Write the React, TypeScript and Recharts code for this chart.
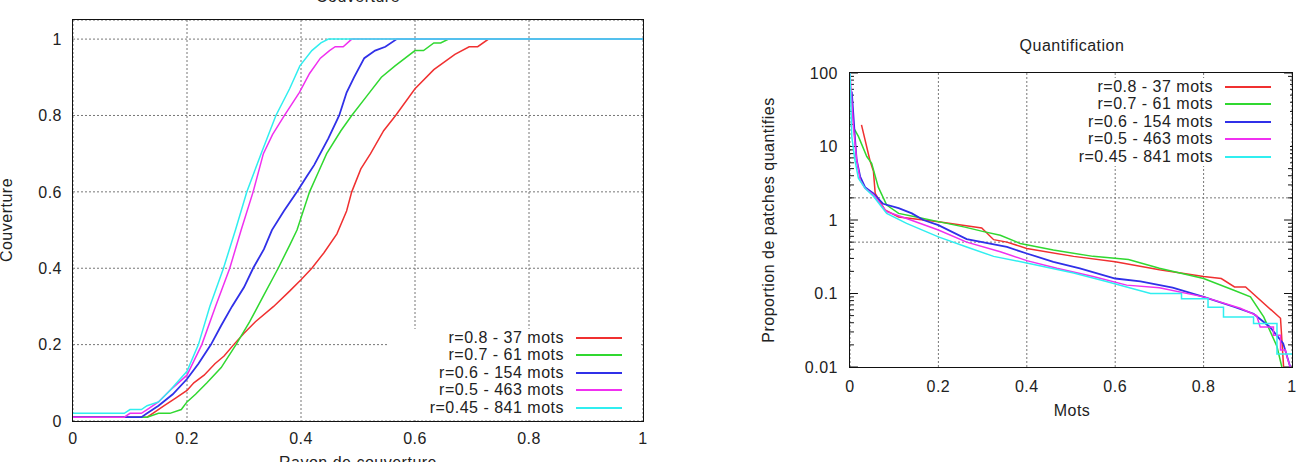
import React from 'react'
import { LineChart, Line, XAxis, YAxis, CartesianGrid, ReferenceLine } from 'recharts'

const FONT = '"Liberation Sans", Arial, Helvetica, sans-serif'
const TEXT = '#222'
const FS = 16
const LS = 0.5

const seriesNames = ['r=0.8 - 37 mots', 'r=0.7 - 61 mots', 'r=0.6 - 154 mots', 'r=0.5 - 463 mots', 'r=0.45 - 841 mots']
const seriesColors = ['#f03030', '#30d830', '#3030e8', '#f030f0', '#30eef0']

const xTicks = [0, 0.2, 0.4, 0.6, 0.8, 1]
const couvYTicks = [0, 0.2, 0.4, 0.6, 0.8, 1]
const quantYTicks = [0.01, 0.1, 1, 10, 100]
const quantGridY = [2, 0.5]

// Couverture (x = rayon, y = couverture)
const couvX_r08 = [0, 0.13, 0.14, 0.16, 0.18, 0.2, 0.212, 0.23, 0.249, 0.265, 0.282, 0.3, 0.32, 0.352, 0.38, 0.4, 0.419, 0.44, 0.463, 0.48, 0.489, 0.505, 0.522, 0.545, 0.566, 0.6, 0.633, 0.67, 0.695, 0.71, 0.729, 1]
const couvY_r08 = [0.01, 0.01, 0.02, 0.04, 0.06, 0.08, 0.1, 0.12, 0.15, 0.17, 0.2, 0.23, 0.26, 0.3, 0.34, 0.37, 0.4, 0.44, 0.49, 0.55, 0.6, 0.66, 0.7, 0.76, 0.8, 0.87, 0.92, 0.96, 0.98, 0.98, 1, 1]
const couvX_r07 = [0, 0.13, 0.15, 0.17, 0.19, 0.2, 0.215, 0.235, 0.26, 0.286, 0.31, 0.335, 0.36, 0.38, 0.393, 0.415, 0.43, 0.445, 0.47, 0.489, 0.515, 0.541, 0.565, 0.6, 0.615, 0.633, 0.645, 0.659, 1]
const couvY_r07 = [0.01, 0.01, 0.02, 0.02, 0.03, 0.05, 0.07, 0.1, 0.14, 0.2, 0.26, 0.33, 0.4, 0.46, 0.5, 0.6, 0.65, 0.7, 0.76, 0.8, 0.85, 0.9, 0.93, 0.97, 0.97, 0.99, 0.99, 1, 1]
const couvX_r06 = [0, 0.11, 0.12, 0.13, 0.15, 0.175, 0.2, 0.22, 0.242, 0.26, 0.279, 0.3, 0.316, 0.335, 0.349, 0.37, 0.393, 0.41, 0.423, 0.448, 0.467, 0.48, 0.493, 0.511, 0.53, 0.548, 0.568, 1]
const couvY_r06 = [0.01, 0.01, 0.01, 0.02, 0.04, 0.07, 0.11, 0.15, 0.2, 0.25, 0.3, 0.35, 0.4, 0.45, 0.5, 0.55, 0.6, 0.64, 0.67, 0.74, 0.8, 0.86, 0.9, 0.95, 0.97, 0.98, 1, 1]
const couvX_r05 = [0, 0.09, 0.1, 0.12, 0.13, 0.15, 0.17, 0.2, 0.213, 0.226, 0.25, 0.275, 0.295, 0.316, 0.334, 0.35, 0.371, 0.397, 0.415, 0.434, 0.45, 0.46, 0.474, 0.489, 1]
const couvY_r05 = [0.01, 0.01, 0.02, 0.02, 0.03, 0.05, 0.08, 0.12, 0.16, 0.2, 0.3, 0.4, 0.5, 0.6, 0.7, 0.75, 0.8, 0.86, 0.91, 0.95, 0.97, 0.98, 0.98, 1, 1]
const couvX_r045 = [0, 0.09, 0.1, 0.12, 0.13, 0.15, 0.17, 0.2, 0.22, 0.24, 0.264, 0.285, 0.305, 0.33, 0.356, 0.38, 0.398, 0.419, 0.435, 0.448, 1]
const couvY_r045 = [0.02, 0.02, 0.03, 0.03, 0.04, 0.05, 0.08, 0.13, 0.2, 0.3, 0.4, 0.5, 0.6, 0.7, 0.8, 0.87, 0.93, 0.97, 0.99, 1, 1]

// Quantification (x = mots, y = proportion, log)
const quantX_r08 = [0.026, 0.045, 0.053, 0.057, 0.079, 0.11, 0.2, 0.298, 0.325, 0.355, 0.4, 0.506, 0.6, 0.7, 0.8, 0.84, 0.87, 0.895, 0.974, 0.981]
const quantY_r08 = [19.7, 6.5, 4.6, 2.3, 1.37, 1.1, 0.95, 0.78, 0.54, 0.5, 0.41, 0.32, 0.27, 0.21, 0.17, 0.16, 0.123, 0.123, 0.046, 0.01]
const quantX_r07 = [0.008, 0.019, 0.038, 0.049, 0.064, 0.083, 0.11, 0.15, 0.2, 0.26, 0.3, 0.34, 0.385, 0.46, 0.55, 0.63, 0.7, 0.8, 0.87, 0.906, 0.936, 0.966, 0.977]
const quantY_r07 = [18, 13.7, 7.3, 5.9, 2.8, 1.6, 1.23, 1.1, 0.95, 0.8, 0.7, 0.62, 0.48, 0.39, 0.32, 0.29, 0.22, 0.16, 0.11, 0.09, 0.048, 0.019, 0.01]
const quantX_r06 = [0.004, 0.011, 0.015, 0.023, 0.034, 0.053, 0.075, 0.11, 0.14, 0.166, 0.2, 0.264, 0.355, 0.4, 0.46, 0.52, 0.6, 0.657, 0.73, 0.8, 0.868, 0.913, 0.95, 0.98, 0.996]
const quantY_r06 = [56, 13.7, 6.6, 3.9, 2.8, 2.3, 1.66, 1.45, 1.23, 1.0, 0.85, 0.55, 0.43, 0.35, 0.27, 0.22, 0.16, 0.146, 0.12, 0.09, 0.066, 0.053, 0.035, 0.021, 0.01]
const quantX_r05 = [0, 0.0075, 0.015, 0.023, 0.034, 0.053, 0.083, 0.128, 0.2, 0.264, 0.34, 0.4, 0.468, 0.55, 0.626, 0.7, 0.8, 0.883, 0.92, 0.928, 0.958, 0.958, 0.974, 0.974, 0.985, 0.99, 0.996]
const quantY_r05 = [100, 19, 6.6, 3.5, 2.7, 2.2, 1.3, 1.05, 0.73, 0.5, 0.37, 0.28, 0.22, 0.17, 0.13, 0.12, 0.09, 0.063, 0.05, 0.035, 0.035, 0.027, 0.027, 0.017, 0.017, 0.013, 0.01]
const quantX_r045 = [0, 0.004, 0.011, 0.019, 0.034, 0.053, 0.083, 0.128, 0.2, 0.264, 0.325, 0.4, 0.506, 0.58, 0.68, 0.75, 0.75, 0.81, 0.81, 0.845, 0.845, 0.913, 0.913, 0.966, 0.966, 1]
const quantY_r045 = [100, 13.7, 6.6, 3.7, 2.7, 2.1, 1.23, 0.9, 0.59, 0.43, 0.32, 0.26, 0.19, 0.146, 0.1, 0.1, 0.085, 0.085, 0.065, 0.065, 0.048, 0.048, 0.039, 0.039, 0.015, 0.015]

const zip = (xs: number[], ys: number[]) => xs.map((x, i) => ({ x, y: ys[i] }))

const couvSeries = [
  zip(couvX_r08, couvY_r08),
  zip(couvX_r07, couvY_r07),
  zip(couvX_r06, couvY_r06),
  zip(couvX_r05, couvY_r05),
  zip(couvX_r045, couvY_r045),
]
const quantSeries = [
  zip(quantX_r08, quantY_r08),
  zip(quantX_r07, quantY_r07),
  zip(quantX_r06, quantY_r06),
  zip(quantX_r05, quantY_r05),
  zip(quantX_r045, quantY_r045),
]

// inward minor ticks on the log axis (gnuplot style)
const logMinor: number[] = []
for (const d of [0.01, 0.1, 1, 10]) for (const m of [2, 3, 4, 5, 6, 7, 8, 9]) logMinor.push(d * m)

const tickStyle = { fontSize: FS, fill: TEXT, fontFamily: FONT, letterSpacing: LS }
const fmt = (v: number) => String(v)

function Label({ x, y, text, rotate }: { x: number; y: number; text: string; rotate?: boolean }) {
  return (
    <div
      style={{
        position: 'absolute', left: x, top: y, fontSize: FS, lineHeight: `${FS}px`, color: TEXT,
        fontFamily: FONT, letterSpacing: LS, whiteSpace: 'nowrap',
        transform: `translate(-50%, -50%)${rotate ? ' rotate(-90deg)' : ''}`,
      }}
    >
      {text}
    </div>
  )
}

function KeyBox({ left, top, width, height }: { left: number; top: number; width: number; height: number }) {
  return (
    <div style={{ position: 'absolute', left, top, width, height, background: '#fff', paddingRight: 19, boxSizing: 'border-box' }}>
      {seriesNames.map((n, i) => (
        <div key={n} style={{ height: 17.5, display: 'flex', alignItems: 'center', justifyContent: 'flex-end' }}>
          <span style={{ fontSize: FS, fontFamily: FONT, letterSpacing: LS, color: TEXT, whiteSpace: 'nowrap' }}>{n}</span>
          <span style={{ marginLeft: 12, width: 46, borderTop: `${i === 2 ? 2.5 : 2}px solid ${seriesColors[i]}` }} />
        </div>
      ))}
    </div>
  )
}

function Frame({ left, top, width, height }: { left: number; top: number; width: number; height: number }) {
  return <div style={{ position: 'absolute', left: left - 1, top: top - 1, width, height, border: '1.5px solid #111', pointerEvents: 'none' }} />
}

export default function App() {
  return (
    <div style={{ position: 'absolute', left: 0, top: 0, width: 1302, height: 462, overflow: 'hidden', background: '#fff' }}>
      {/* Couverture */}
      <div style={{ position: 'absolute', left: 0, top: 0 }}>
        <LineChart width={660} height={462} margin={{ top: 20, right: 17, bottom: 11, left: 20 }}>
          <CartesianGrid stroke="#777" strokeDasharray="2 2" />
          <XAxis
            dataKey="x" type="number" domain={[0, 1]} ticks={xTicks} tickFormatter={fmt}
            axisLine={false} tickLine={false} tickSize={0} tickMargin={12} height={30} tick={tickStyle}
          />
          <YAxis
            type="number" domain={[0, 1.05]} ticks={couvYTicks} tickFormatter={fmt} allowDataOverflow
            axisLine={false} tickLine={false} tickSize={0} tickMargin={11} width={53} tick={tickStyle}
          />
          {couvSeries.map((pts, i) => (
            <Line
              key={seriesNames[i]} data={pts} dataKey="y" type="linear" stroke={seriesColors[i]}
              strokeWidth={i === 2 ? 1.8 : 1.5} dot={false} isAnimationActive={false}
            />
          ))}
        </LineChart>
        <KeyBox left={387} top={329} width={254} height={90} />
        <Frame left={73} top={20} width={570} height={401} />
        <Label x={358} y={-3} text="Couverture" />
        <Label x={358} y={463} text="Rayon de couverture" />
        <Label x={7} y={220} text="Couverture" rotate />
      </div>

      {/* Quantification */}
      <div style={{ position: 'absolute', left: 660, top: 0 }}>
        <LineChart width={642} height={462} margin={{ top: 73, right: 10, bottom: 65, left: 130 }}>
          <CartesianGrid stroke="#777" strokeDasharray="2 2" horizontal={false} />
          <XAxis
            dataKey="x" type="number" domain={[0, 1]} ticks={xTicks} tickFormatter={fmt}
            axisLine={false} tickLine={false} tickSize={0} tickMargin={14} height={30} tick={tickStyle}
          />
          <YAxis
            type="number" scale="log" domain={[0.01, 100]} ticks={quantYTicks} tickFormatter={fmt} allowDataOverflow
            axisLine={false} tickLine={false} tickSize={0} tickMargin={12} width={60} tick={tickStyle}
          />
          {quantGridY.map(v => (
            <ReferenceLine key={v} y={v} stroke="#777" strokeDasharray="2 2" />
          ))}
          {quantYTicks.map(v => (
            <ReferenceLine key={'L' + v} segment={[{ x: 0, y: v }, { x: 0.018, y: v }]} stroke="#111" ifOverflow="visible" />
          ))}
          {quantYTicks.map(v => (
            <ReferenceLine key={'R' + v} segment={[{ x: 0.982, y: v }, { x: 1, y: v }]} stroke="#111" ifOverflow="visible" />
          ))}
          {logMinor.map(v => (
            <ReferenceLine key={'l' + v} segment={[{ x: 0, y: v }, { x: 0.009, y: v }]} stroke="#111" ifOverflow="visible" />
          ))}
          {logMinor.map(v => (
            <ReferenceLine key={'r' + v} segment={[{ x: 0.991, y: v }, { x: 1, y: v }]} stroke="#111" ifOverflow="visible" />
          ))}
          {quantSeries.map((pts, i) => (
            <Line
              key={seriesNames[i]} data={pts} dataKey="y" type="linear" stroke={seriesColors[i]}
              strokeWidth={i === 2 ? 1.8 : 1.5} dot={false} isAnimationActive={false}
            />
          ))}
        </LineChart>
        <KeyBox left={413} top={78} width={217} height={88} />
        <Frame left={190} top={73} width={442} height={294} />
        <Label x={412} y={46} text="Quantification" />
        <Label x={412} y={411} text="Mots" />
        <Label x={109} y={220} text="Proportion de patches quantifies" rotate />
      </div>
    </div>
  )
}
